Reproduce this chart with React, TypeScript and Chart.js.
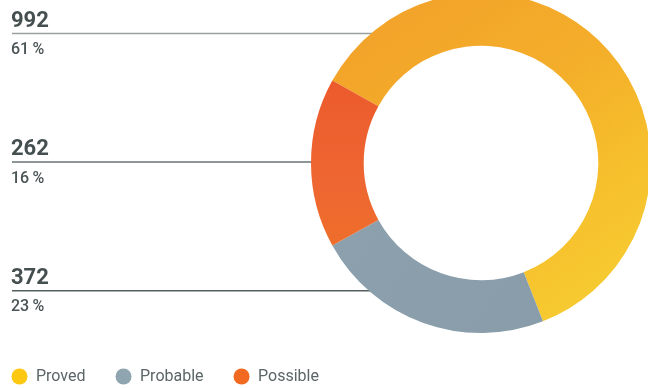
import React, { useEffect, useRef } from 'react';
import { Chart, registerables } from 'chart.js';

Chart.register(...registerables);

const categories = ['Proved', 'Probable', 'Possible'];
const values = [992, 372, 262];
const legendColors = ['#FCC812', '#8FA6B1', '#F26A21'];
// order of the callout rows, top to bottom (indices into categories)
const calloutOrder = [0, 2, 1];

const OFFSET_Y = 10; // canvas is shifted up by this amount
const FONT = 'Roboto, "DejaVu Sans", sans-serif';

function segmentColor(ctx: any) {
  const i = ctx.dataIndex;
  const chart = ctx.chart;
  const area = chart.chartArea;
  if (!area) return legendColors[i];
  const c = chart.ctx as CanvasRenderingContext2D;
  const cx = (area.left + area.right) / 2;
  const cy = (area.top + area.bottom) / 2;
  const r = Math.min(area.right - area.left, area.bottom - area.top) / 2;
  if (i === 0) {
    const g = c.createLinearGradient(cx - r * 0.8, cy - r, cx + r * 0.5, cy + r);
    g.addColorStop(0, '#F2A02A');
    g.addColorStop(0.45, '#F4AE2A');
    g.addColorStop(0.75, '#F6C02C');
    g.addColorStop(1, '#F7CC32');
    return g;
  }
  if (i === 1) {
    const g = c.createLinearGradient(cx - r, cy, cx + r * 0.4, cy + r);
    g.addColorStop(0, '#8DA2AE');
    g.addColorStop(1, '#889CA9');
    return g;
  }
  const g = c.createLinearGradient(cx, cy - r * 0.5, cx, cy + r * 0.5);
  g.addColorStop(0, '#EC5A2C');
  g.addColorStop(0.6, '#EE6632');
  g.addColorStop(1, '#EE6E2A');
  return g;
}

const calloutPlugin = {
  id: 'callouts',
  beforeDatasetsDraw(chart: any) {
    const meta = chart.getDatasetMeta(0);
    const arc = meta.data[0];
    if (!arc) return;
    const { x: cx, y: cy, outerRadius: R } = arc.getProps(['x', 'y', 'outerRadius'], true);
    const ctx = chart.ctx as CanvasRenderingContext2D;
    const lineColors = ['#9AA0A0', '#6A7374', '#555F60'];
    calloutOrder.forEach((_, row) => {
      const y = 33.5 + row * 128.6 + OFFSET_Y;
      const dy = y - cy;
      const xEnd = cx - Math.sqrt(Math.max(R * R - dy * dy, 0)) + 3;
      ctx.save();
      ctx.strokeStyle = lineColors[row];
      ctx.lineWidth = 1.5;
      ctx.beginPath();
      ctx.moveTo(12, y);
      ctx.lineTo(xEnd, y);
      ctx.stroke();
      ctx.restore();
    });
  },
  afterDraw(chart: any) {
    const ctx = chart.ctx as CanvasRenderingContext2D;
    const data: number[] = chart.data.datasets[0].data;
    const total = data.reduce((a, b) => a + b, 0);
    ctx.save();
    calloutOrder.forEach((idx, row) => {
      const y = 33.5 + row * 128.6 + OFFSET_Y;
      ctx.textAlign = 'left';
      ctx.textBaseline = 'alphabetic';
      ctx.fillStyle = '#454F50';
      ctx.font = `bold 22px ${FONT}`;
      ctx.fillText(String(data[idx]), 11, y - 7);
      ctx.fillStyle = '#4A5455';
      ctx.font = `500 16px ${FONT}`;
      ctx.fillText(`${Math.round((data[idx] / total) * 100)}\u2009%`, 11, y + 20.5);
    });
    // legend
    const labels: string[] = chart.data.labels;
    let x = 19.5;
    const ly = 376.5 + OFFSET_Y;
    ctx.font = `16px ${FONT}`;
    ctx.textBaseline = 'middle';
    labels.forEach((lab, i) => {
      ctx.fillStyle = legendColors[i];
      ctx.beginPath();
      ctx.arc(x, ly, 8, 0, Math.PI * 2);
      ctx.fill();
      ctx.fillStyle = '#5B6567';
      const tx = x + 16.5;
      ctx.fillText(lab, tx, ly);
      x = tx + ctx.measureText(lab).width + 38;
    });
    ctx.restore();
  },
};

export default function App() {
  const ref = useRef<HTMLCanvasElement | null>(null);
  useEffect(() => {
    document.body.style.margin = '0';
    const canvas = ref.current;
    if (!canvas) return;
    const chart = new Chart(canvas, {
      type: 'doughnut',
      data: {
        labels: categories,
        datasets: [
          {
            data: values,
            backgroundColor: segmentColor as any,
            borderWidth: 0,
            hoverOffset: 0,
          },
        ],
      },
      options: {
        responsive: false,
        devicePixelRatio: 1,
        animation: false,
        rotation: -61,
        cutout: '69%',
        layout: { padding: { left: 311, right: 9, top: 3, bottom: 57 } },
        plugins: {
          legend: { display: false },
          tooltip: { enabled: false },
        },
      },
      plugins: [calloutPlugin],
    });
    return () => chart.destroy();
  }, []);
  return (
    <div style={{ position: 'relative', width: 648, height: 388, overflow: 'hidden', background: '#fff' }}>
      <canvas
        ref={ref}
        width={660}
        height={400}
        style={{ position: 'absolute', left: 0, top: -OFFSET_Y, width: 660, height: 400 }}
      />
    </div>
  );
}
